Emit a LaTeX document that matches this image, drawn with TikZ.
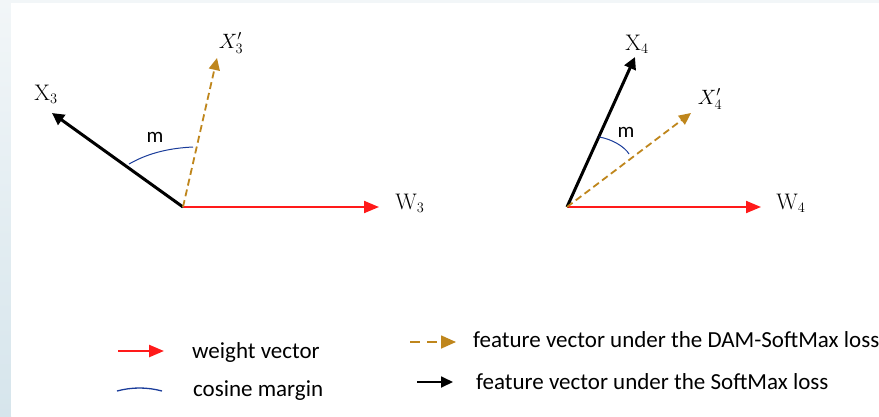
\documentclass[tikz,border=0pt]{standalone}
\usepackage{fontspec}
\setsansfont{Carlito}
\usepackage{tikz}
\usetikzlibrary{arrows.meta,positioning,calc}
\definecolor{WeightRed}{HTML}{FF1A1A}
\definecolor{DamGold}{HTML}{BF861C}
\definecolor{MarginBlue}{HTML}{1A3C9A}
\definecolor{PageEdge}{HTML}{F2F6F8}
\definecolor{StripBlue}{HTML}{D6E5EC}

\begin{document}
\begin{tikzpicture}[x=1pt,y=-1pt,>=Triangle]
  \tikzset{
    weightvec/.style={WeightRed,line width=2pt,-{Triangle[length=15pt,width=12pt]}},
    featvec/.style={black,line width=3pt,-{Triangle[length=12pt,width=12pt]}},
    damvec/.style={DamGold,line width=1.8pt,dash pattern=on 7pt off 4pt,-{Triangle[length=12pt,width=11pt]}},
    marginarc/.style={MarginBlue,line width=1pt},
    veclabel/.style={font=\fontsize{22.5}{25}\selectfont,inner sep=1pt},
    mlabel/.style={font=\sffamily\fontsize{21}{24}\selectfont,inner sep=1pt},
    legendtext/.style={font=\sffamily\fontsize{23}{26}\selectfont,anchor=west,inner sep=0pt}
  }
  % page
  \fill[PageEdge] (0,0) rectangle (879,416);
  \shade[top color=PageEdge,bottom color=StripBlue] (0,0) rectangle (11,416);
  \fill[white] (11,3) rectangle (879,416);
  \useasboundingbox (0,0) rectangle (879,416);

  % left case
  \coordinate (o3) at (183,207);
  \coordinate (w3) at (379,207);
  \coordinate (x3) at (52,113);
  \coordinate (xd3) at (217,58);
  \node[veclabel] (lw3) at (410,203) {$\mathrm{W}_3$};
  \node[veclabel] (lx3) at (46,94) {$\mathrm{X}_3$};
  \node[veclabel] (lxd3) at (231,43) {$X'_3$};
  \node[mlabel] (m3) at (155,137) {m};
  \draw[weightvec] (o3) -- (w3);
  \draw[featvec] (o3) -- (x3);
  \draw[damvec] (o3) -- (xd3);
  \draw[marginarc] (129,164) .. controls (150,152) and (172,148) .. (193,147);

  % right case
  \coordinate (o4) at (567,207);
  \coordinate (w4) at (761,207);
  \coordinate (x4) at (635,57);
  \coordinate (xd4) at (691,113);
  \node[veclabel] (lw4) at (791,203) {$\mathrm{W}_4$};
  \node[veclabel] (lx4) at (637,44) {$\mathrm{X}_4$};
  \node[veclabel] (lxd4) at (710,99) {$X'_4$};
  \node[mlabel] (m4) at (626,132) {m};
  \draw[weightvec] (o4) -- (w4);
  \draw[featvec] (o4) -- (x4);
  \draw[damvec] (o4) -- (xd4);
  \draw[marginarc] (599,137) .. controls (612,139) and (625,147) .. (629,154);

  % legend
  \coordinate (lg1a) at (118,351);
  \coordinate (lg1b) at (164,351);
  \node[legendtext] (lt1) at (192,352) {weight vector};
  \draw[weightvec,line width=2.4pt] (lg1a) -- (lg1b);
  \node[legendtext] (lt2) at (193,391) {cosine margin};
  \draw[marginarc,line width=1.3pt] (117,391) .. controls (132,387) and (147,387) .. (162,391);
  \coordinate (lg3a) at (410,342);
  \coordinate (lg3b) at (456,342);
  \node[legendtext] (lt3) at (473,340) {feature vector under the DAM-SoftMax loss};
  \draw[damvec,line width=1.6pt,dash pattern=on 10pt off 7pt,-{Triangle[length=15pt,width=13pt]}] (lg3a) -- (lg3b);
  \coordinate (lg4a) at (417,382);
  \coordinate (lg4b) at (453,382);
  \node[legendtext] (lt4) at (476,382) {feature vector under the SoftMax loss};
  \draw[featvec,line width=1.8pt,-{Triangle[length=12pt,width=11pt]}] (lg4a) -- (lg4b);
\end{tikzpicture}
\end{document}
